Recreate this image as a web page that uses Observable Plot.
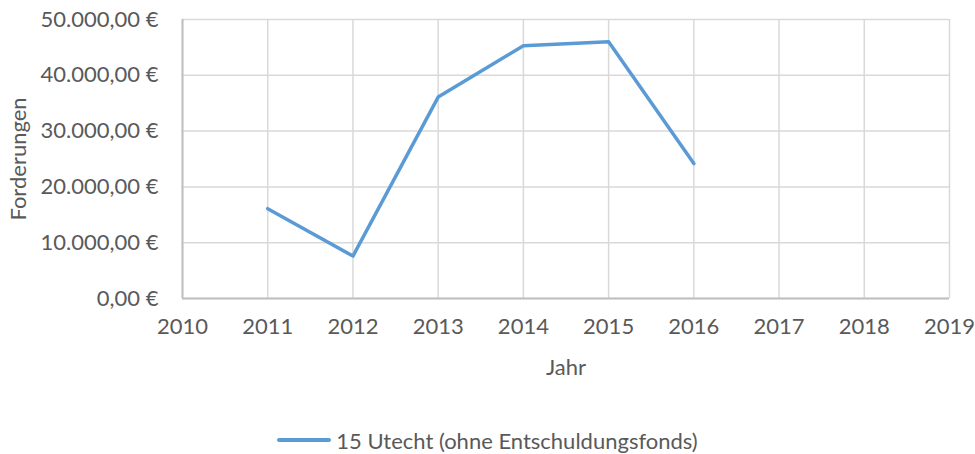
<!DOCTYPE html>
<html>
<head>
<meta charset="utf-8">
<script src="https://cdn.jsdelivr.net/npm/d3@7"></script>
<script src="https://cdn.jsdelivr.net/npm/@observablehq/plot@0.6"></script>
<style>
  html, body { margin: 0; padding: 0; background: #fff; }
  body { width: 975px; height: 454px; overflow: hidden; font-family: Lato, "Open Sans", sans-serif; }
  #legend { display: flex; justify-content: center; align-items: center; padding-top: 38px; height: 24px; color: #595959; font-size: 22px; }
  #legend .swatch { width: 54px; height: 3.5px; background: #5b9bd5; border-radius: 2px; margin-right: 5px; }
</style>
</head>
<body>
<div id="chart"></div>
<div id="legend"><span class="swatch"></span><span id="legend-label"></span></div>
<script>
const seriesName = "15 Utecht (ohne Entschuldungsfonds)";
const years = [2011, 2012, 2013, 2014, 2015, 2016];
const values = [16100, 7600, 36100, 45300, 46000, 24200];
const xTicks = [2010, 2011, 2012, 2013, 2014, 2015, 2016, 2017, 2018, 2019];
const yTicks = [0, 10000, 20000, 30000, 40000, 50000];

const data = years.map((y, i) => ({year: y, value: values[i]}));
const fmt = new Intl.NumberFormat("de-DE", {minimumFractionDigits: 2, maximumFractionDigits: 2});

const chart = Plot.plot({
  width: 975,
  height: 390,
  marginLeft: 182,
  marginRight: 26,
  marginTop: 19,
  marginBottom: 92,
  style: {fontFamily: "Lato, 'Open Sans', sans-serif", fontSize: "22px", color: "#595959", background: "#fff"},
  x: {domain: [2010, 2019]},
  y: {domain: [0, 50000]},
  marks: [
    Plot.gridX(xTicks, {stroke: "#d9d9d9", strokeOpacity: 1, strokeWidth: 1.5}),
    Plot.gridY(yTicks, {stroke: "#d9d9d9", strokeOpacity: 1, strokeWidth: 1.5}),
    Plot.ruleY([0], {stroke: "#bfbfbf", strokeWidth: 2}),
    Plot.ruleX([2010], {stroke: "#bfbfbf", strokeWidth: 2}),
    Plot.axisX({ticks: xTicks, tickFormat: d => String(d), tickSize: 0, tickPadding: 20,
      fill: "#595959", label: "Jahr", labelAnchor: "center", labelArrow: "none", labelOffset: 76}),
    Plot.axisY({ticks: yTicks, tickFormat: d => fmt.format(d) + " €", tickSize: 0, tickPadding: 24,
      fill: "#595959", label: "Forderungen", labelAnchor: "center", labelArrow: "none", labelOffset: 172}),
    Plot.line(data, {x: "year", y: "value", stroke: "#5b9bd5", strokeWidth: 3.5, strokeLinejoin: "round", strokeLinecap: "round"})
  ]
});
document.getElementById("chart").append(chart);
document.getElementById("legend-label").textContent = seriesName;
</script>
</body>
</html>
